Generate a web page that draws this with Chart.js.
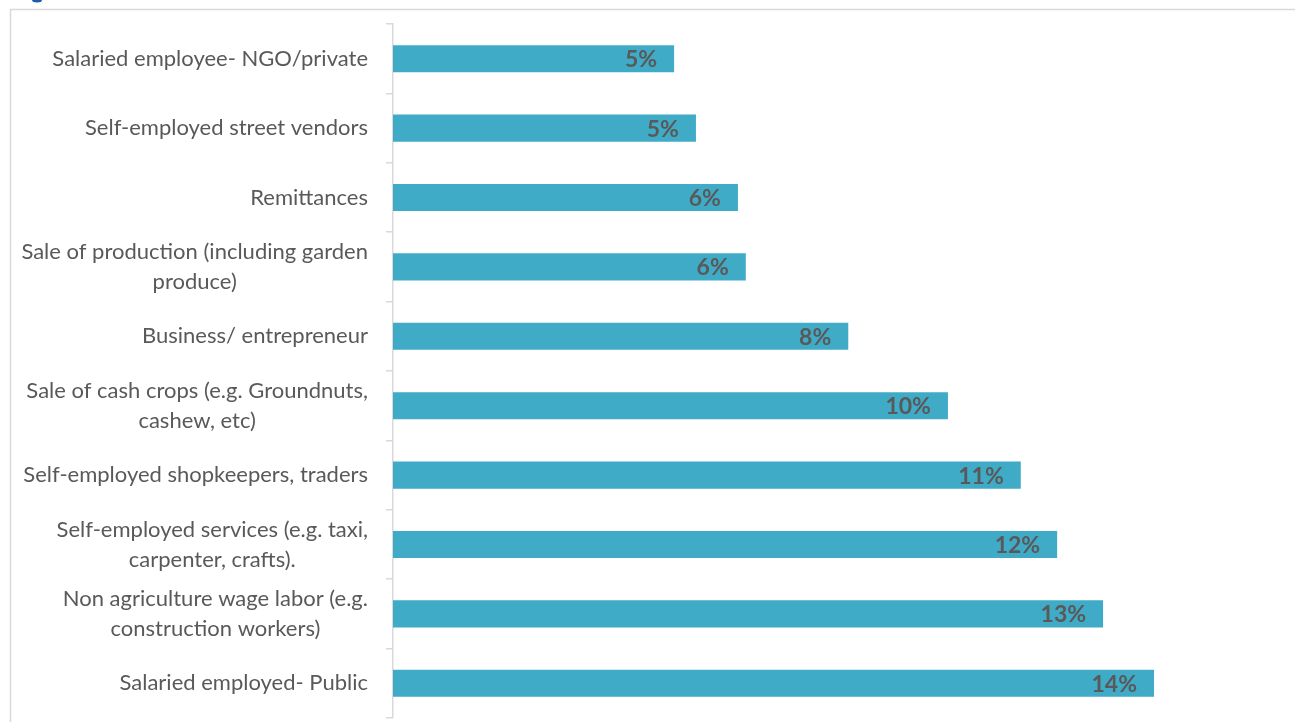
<!DOCTYPE html>
<html>
<head>
<meta charset="utf-8">
<script src="https://cdn.jsdelivr.net/npm/chart.js@4.4.0/dist/chart.umd.min.js"></script>
<style>
html, body { margin: 0; padding: 0; background: #fff; }
#wrap { width: 1295px; height: 722px; position: relative; }
</style>
</head>
<body>
<div id="wrap"><canvas id="main"></canvas></div>
<script>
// categories top to bottom, wrapped the same way as the picture
var categories = [
	['Salaried employee- NGO/private'],
	['Self-employed street vendors'],
	['Remittances'],
	['Sale of production (including garden', 'produce)'],
	['Business/ entrepreneur'],
	['Sale of cash crops (e.g. Groundnuts,', 'cashew, etc)'],
	['Self-employed shopkeepers, traders'],
	['Self-employed services (e.g. taxi,', 'carpenter, crafts).'],
	['Non agriculture wage labor (e.g.', 'construction workers)'],
	['Salaried employed- Public']
];
// share of households (%)
var shares = [5.02, 5.41, 6.16, 6.30, 8.13, 9.91, 11.21, 11.86, 12.68, 13.59];
var shareLabels = ['5%', '5%', '6%', '6%', '8%', '10%', '11%', '12%', '13%', '14%'];
var xTicks = [0, 16];

var labelColor = '#595959';
var barColor = '#40abc7';
var gridColor = '#d9d9d9';

// outer frame + the cut off title glyph at the very top
var framePlugin = {
	id: 'frame',
	beforeDraw: function(chart){
		var ctx = chart.ctx;
		ctx.save();
		ctx.strokeStyle = gridColor;
		ctx.lineWidth = 1.5;
		ctx.beginPath();
		ctx.moveTo(10.5, chart.height + 5);
		ctx.lineTo(10.5, 9.5);
		ctx.lineTo(chart.width + 5, 9.5);
		ctx.stroke();
		ctx.fillStyle = '#1f5ca8';
		ctx.beginPath();
		ctx.ellipse(37, 0, 5, 2.5, 0, 0, Math.PI * 2);
		ctx.fill();
		ctx.restore();
	}
};

// category labels: right aligned block, lines centred inside the block
var catLabelPlugin = {
	id: 'catLabels',
	afterDraw: function(chart){
		var ctx = chart.ctx,
			yScale = chart.scales.y,
			rightEdge = yScale.right - 25,
			lineHeight = 30;
		ctx.save();
		ctx.font = '22px Lato';
		ctx.fillStyle = labelColor;
		ctx.textAlign = 'center';
		ctx.textBaseline = 'middle';
		for (var i = 0; i < categories.length; i++){
			var lines = categories[i];
			var widest = 0;
			for (var j = 0; j < lines.length; j++){
				widest = Math.max(widest, ctx.measureText(lines[j]).width);
			}
			var cx = rightEdge - widest / 2;
			var cy = yScale.getPixelForTick(i);
			var top = cy - (lines.length - 1) * lineHeight / 2;
			for (var j = 0; j < lines.length; j++){
				ctx.fillText(lines[j], cx, top + j * lineHeight);
			}
		}
		ctx.restore();
	}
};

// value labels inside the end of each bar
var barLabelPlugin = {
	id: 'barLabels',
	afterDatasetsDraw: function(chart){
		var ctx = chart.ctx,
			meta = chart.getDatasetMeta(0);
		ctx.save();
		ctx.font = 'bold 23px Lato';
		ctx.fillStyle = labelColor;
		ctx.textAlign = 'right';
		ctx.textBaseline = 'middle';
		for (var i = 0; i < meta.data.length; i++){
			var bar = meta.data[i];
			ctx.fillText(shareLabels[i], bar.x - 17, bar.y + 1);
		}
		ctx.restore();
	}
};

var ctx = document.getElementById('main').getContext('2d');
var chart = new Chart(ctx, {
	type: 'bar',
	data: {
		labels: categories,
		datasets: [{
			data: shares,
			backgroundColor: barColor,
			borderWidth: 0,
			barPercentage: 0.39,
			categoryPercentage: 1
		}]
	},
	options: {
		indexAxis: 'y',
		responsive: true,
		maintainAspectRatio: false,
		animation: false,
		layout: { padding: { top: 24, bottom: 4, right: 6, left: 0 } },
		plugins: {
			legend: { display: false },
			tooltip: { enabled: false },
			title: { display: false }
		},
		scales: {
			x: {
				display: false,
				min: xTicks[0],
				max: xTicks[1]
			},
			y: {
				afterFit: function(scale){ scale.width = 393; },
				ticks: { display: false },
				grid: {
					offset: true,
					drawOnChartArea: false,
					drawTicks: true,
					tickLength: 7,
					color: gridColor,
					lineWidth: 1.5
				},
				border: { display: true, color: gridColor, width: 1.5 }
			}
		}
	},
	plugins: [framePlugin, catLabelPlugin, barLabelPlugin]
});
</script>
</body>
</html>
